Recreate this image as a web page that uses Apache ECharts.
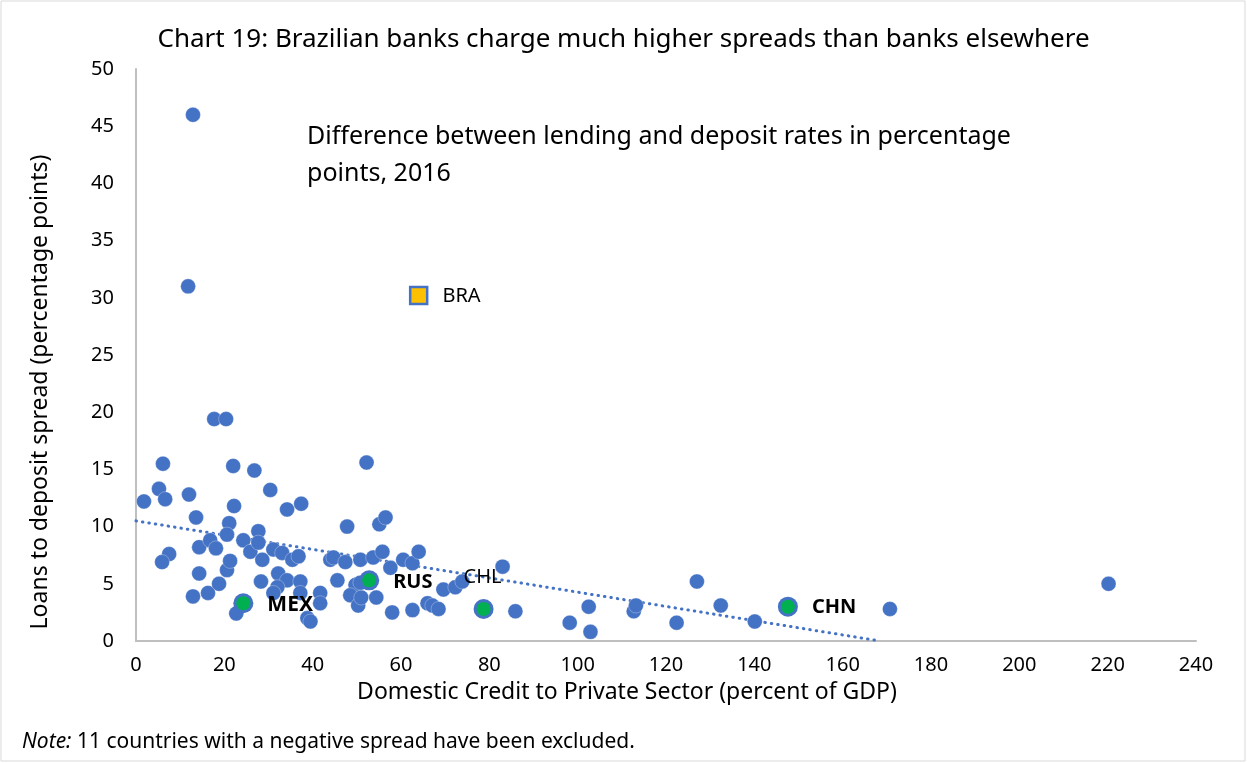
<!DOCTYPE html>
<html><head><meta charset="utf-8">
<script src="https://cdn.jsdelivr.net/npm/echarts@6/dist/echarts.min.js"></script>
<style>html,body{margin:0;padding:0;background:#fff}#c{width:1247px;height:763px}</style>
</head><body><div id="c"></div>
<script>
// Credit to private sector (% of GDP) and spread (pp) for other countries
const otherX = [12.9,11.8,17.7,20.4,6.1,22.0,26.8,52.2,5.2,6.6,1.8,12.0,30.4,34.2,37.4,22.2,13.6,21.1,47.8,55.1,56.5,7.5,5.9,14.3,14.3,12.9,16.3,18.8,20.6,21.3,22.7,27.7,16.8,18.1,20.6,24.3,25.9,27.7,28.6,28.3,31.1,33.1,35.4,32.2,34.2,32.0,37.2,37.2,38.8,39.5,41.7,41.7,44.0,44.7,47.4,50.8,53.7,55.8,57.6,60.5,62.6,64.0,45.6,49.7,48.5,50.3,51.0,54.4,58.0,62.6,66.0,67.1,68.5,69.6,72.3,73.9,83.0,85.9,98.2,102.5,102.9,112.7,113.2,122.4,127.0,132.4,140.1,170.7,220.2,31.1,36.8,50.8];
const otherY = [46.0,31.0,19.4,19.4,15.5,15.3,14.9,15.6,13.3,12.4,12.2,12.8,13.2,11.5,12.0,11.8,10.8,10.3,10.0,10.2,10.8,7.6,6.9,8.2,5.9,3.9,4.2,5.0,6.2,7.0,2.4,9.6,8.8,8.1,9.3,8.8,7.8,8.6,7.1,5.2,8.0,7.7,7.1,5.9,5.3,4.7,5.2,4.2,2.0,1.7,4.2,3.3,7.1,7.3,6.9,7.1,7.3,7.8,6.4,7.1,6.8,7.8,5.3,4.9,4.0,3.1,3.8,3.8,2.5,2.7,3.3,3.1,2.8,4.5,4.7,5.2,6.5,2.6,1.6,3.0,0.8,2.6,3.1,1.6,5.2,3.1,1.7,2.8,5.0,4.2,7.4,5.1];
// Highlighted peers
const peerNames = ['MEX','RUS','CHL','CHN'];
const peerX = [24.3,52.8,78.7,147.6];
const peerY = [3.3,5.3,2.8,3.0];
// Brazil
const braName = 'BRA';
const braX = 64.0;
const braY = 30.2;
// Linear trend endpoints
const trendX = [0,168.5];
const trendY = [10.5,0];
// Axis ticks
const xTicks = [0,20,40,60,80,100,120,140,160,180,200,220,240];
const yTicks = [0,5,10,15,20,25,30,35,40,45,50];

const chart = echarts.init(document.getElementById('c'));
const ff = '"Noto Sans", "Liberation Sans", sans-serif';
const blue = '#4472C4';
const others = otherX.map((x,i)=>[x, otherY[i]]);
const peers = peerX.map((x,i)=>({name: peerNames[i], value:[x, peerY[i]]}));
const labelCfg = {
  MEX:{fontWeight:'bold', offset:[12,2], fontSize:21},
  RUS:{fontWeight:'bold', offset:[12,2], fontSize:20},
  CHL:{fontWeight:'normal', offset:[-32,-32], fontSize:20},
  CHN:{fontWeight:'bold', offset:[12,1], fontSize:20}
};
const greenData = peers.map(p=>({name:p.name, value:p.value, label:{show:true, position:'right', formatter:p.name, color:'#000', fontSize:labelCfg[p.name].fontSize, fontFamily:ff, fontWeight:labelCfg[p.name].fontWeight, offset:labelCfg[p.name].offset}}));

chart.setOption({
  animation:false,
  backgroundColor:'#fff',
  title:{
    text:'Chart 19: Brazilian banks charge much higher spreads than banks elsewhere',
    left:'center', top:22,
    textStyle:{fontFamily:ff, fontSize:26, fontWeight:'normal', color:'#000'}
  },
  graphic:[
    {type:'rect', shape:{x:1, y:1, width:1244, height:760}, style:{fill:'none', stroke:'#D9D9D9', lineWidth:1}, silent:true},
    {type:'text', left:307, top:118, style:{text:'Difference between lending and deposit rates in percentage\npoints, 2016', fontFamily:ff, fontSize:25, lineHeight:37, fill:'#000'}},
    {type:'text', x:627, y:692, style:{text:'Domestic Credit to Private Sector (percent of GDP)', align:'center', verticalAlign:'middle', fontFamily:ff, fontSize:23, fill:'#000'}},
    {type:'text', x:40, y:392, rotation:Math.PI/2, style:{text:'Loans to deposit spread (percentage points)', align:'center', verticalAlign:'middle', fontFamily:ff, fontSize:23, fill:'#000'}},
    {type:'text', left:22, top:732, style:{rich:{i:{fontStyle:'italic', fontFamily:ff, fontSize:21, fill:'#000'}, n:{fontFamily:ff, fontSize:21, fill:'#000'}}, text:'{i|Note:}{n| 11 countries with a negative spread have been excluded.}'}}
  ],
  grid:{left:136, right:51, top:69, bottom:122},
  xAxis:{
    type:'value', min:xTicks[0], max:xTicks[xTicks.length-1], interval:20,
    axisLine:{show:true, lineStyle:{color:'#BFBFBF', width:2}},
    axisTick:{show:false}, splitLine:{show:false},
    axisLabel:{fontFamily:ff, fontSize:20, color:'#000', margin:14}
  },
  yAxis:{
    type:'value', min:yTicks[0], max:yTicks[yTicks.length-1], interval:5,
    axisLine:{show:true, lineStyle:{color:'#BFBFBF', width:2}},
    axisTick:{show:false}, splitLine:{show:false},
    axisLabel:{fontFamily:ff, fontSize:20, color:'#000', margin:22}
  },
  series:[
    {type:'line', data:trendX.map((x,i)=>[x,trendY[i]]), symbol:'none', z:1,
     lineStyle:{color:blue, width:3, type:[0.5,6], cap:'round'}},
    {type:'scatter', data:others, symbolSize:15, z:2,
     itemStyle:{color:blue, borderColor:'rgba(255,255,255,0.5)', borderWidth:0.6, opacity:1}},
    {type:'scatter', data:peers.map(p=>p.value), symbolSize:20, z:3, itemStyle:{color:blue, opacity:1}},
    {type:'scatter', data:greenData, symbolSize:14, z:4, itemStyle:{color:'#00B050', opacity:1}},
    {type:'scatter', data:[{name:braName, value:[braX, braY], label:{show:true, position:'right', formatter:braName, offset:[9,1], fontFamily:ff, fontSize:20, color:'#000'}}],
     symbol:'rect', symbolSize:17, z:5, itemStyle:{color:'#FFC000', borderColor:blue, borderWidth:2.5, opacity:1}}
  ]
});
</script></body></html>
